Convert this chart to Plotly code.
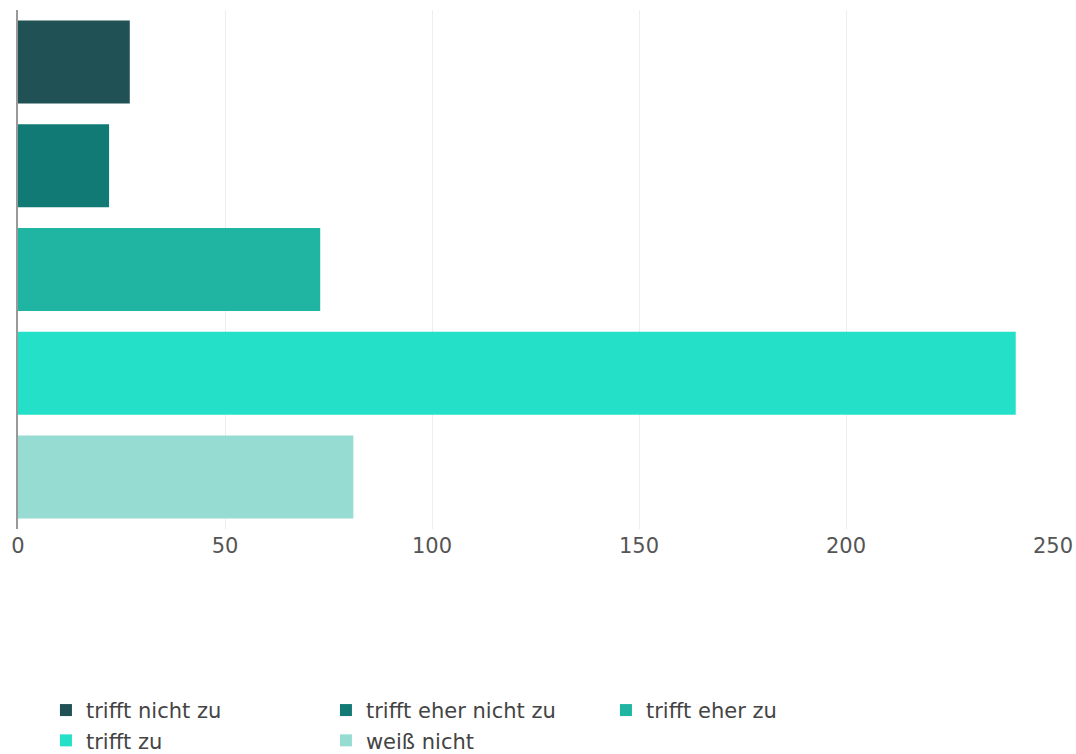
import plotly.graph_objects as go

categories = ["trifft nicht zu", "trifft eher nicht zu", "trifft eher zu", "trifft zu", "weiß nicht"]
values = [27, 22, 73, 241, 81]
colors = ["#1f5155", "#117a74", "#20b5a2", "#24e0c9", "#96dcd2"]
x_ticks = [0, 50, 100, 150, 200, 250]

fig = go.Figure()
for cat, val, col in zip(categories, values, colors):
    fig.add_trace(go.Bar(
        x=[val], y=[cat], orientation="h", name=cat,
        marker=dict(color=col, line=dict(width=0)),
        width=0.8,
    ))

fig.update_layout(
    width=1076, height=754,
    margin=dict(l=18, r=23, t=10, b=225),
    paper_bgcolor="white", plot_bgcolor="white",
    barmode="overlay",
    font=dict(family="DejaVu Sans, Verdana, sans-serif", color="#555"),
    showlegend=True,
    legend=dict(
        orientation="h", x=0.027, xanchor="left",
        yref="container", y=0.085, yanchor="top",
        entrywidth=235, entrywidthmode="pixels",
        font=dict(size=21, color="#444"),
        traceorder="normal",
    ),
    xaxis=dict(
        range=[0, 250], tickvals=x_ticks, showgrid=True, gridcolor="#eeeeee",
        zeroline=False, showline=False, tickfont=dict(size=21, color="#555"),
        ticks="", ticklabelstandoff=2, automargin=False,
    ),
    yaxis=dict(
        categoryorder="array", categoryarray=categories, autorange="reversed",
        showticklabels=False, showgrid=False, showline=True, linecolor="#999",
        linewidth=2, zeroline=False, ticks="", automargin=False,
    ),
)

fig.write_html(
    "out.html",
    config={"displayModeBar": False},
    post_script="document.body.style.margin='0';document.body.style.overflow='hidden';",
)
